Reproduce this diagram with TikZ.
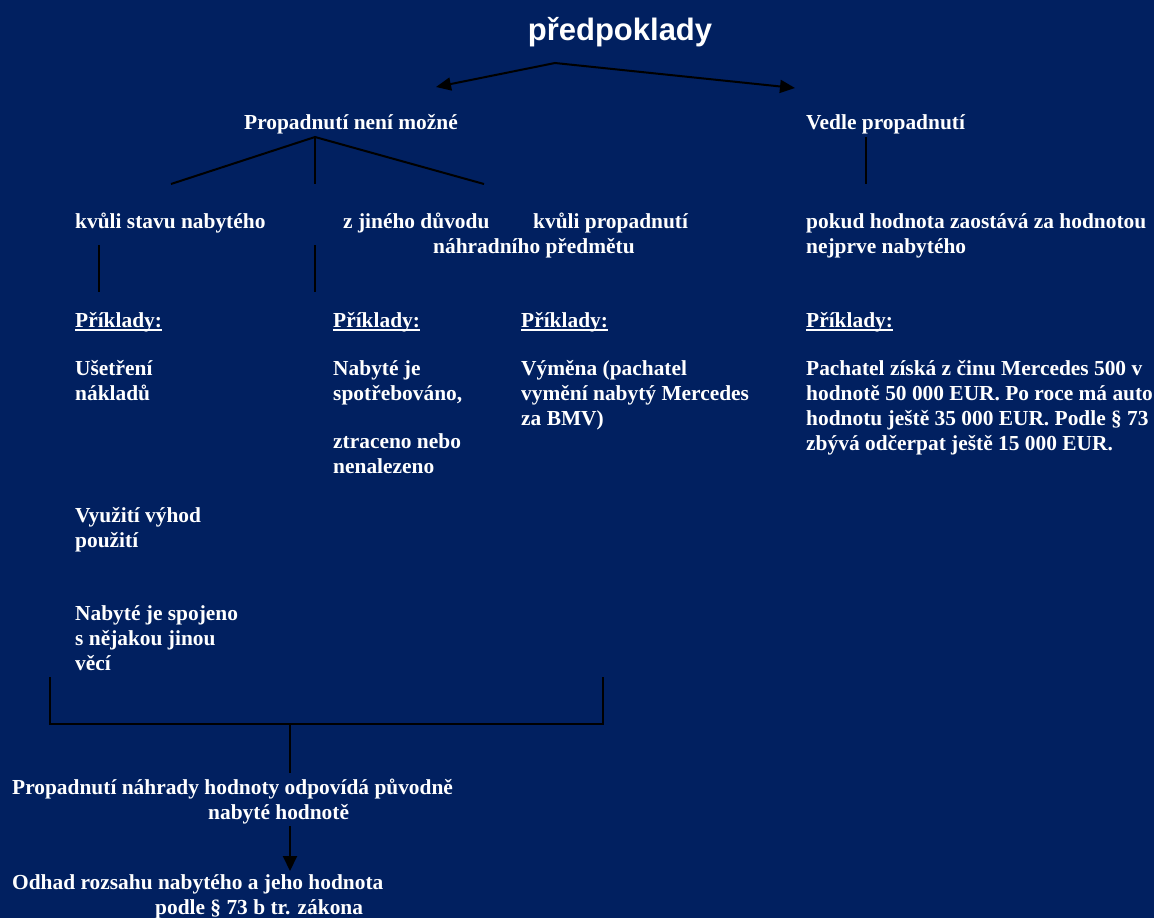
\documentclass[tikz,border=0pt]{standalone}
\usepackage{fontspec}
\setmainfont{Liberation Serif}
\newfontfamily\titlefont{Liberation Sans}
\usetikzlibrary{arrows.meta}
\definecolor{bgnavy}{RGB}{1,32,96}
\newcommand{\mlines}[1]{\begin{tabular}[t]{@{}l@{}}#1\end{tabular}}
\begin{document}
\begin{tikzpicture}[x=1pt,y=-1pt,
  txt/.style={anchor=base west, inner sep=0pt, text=white, font=\fontsize{21.4}{25}\selectfont\bfseries},
  conn/.style={draw=black, line width=2pt},
  tiphead/.style={-{Triangle[length=15pt,width=14pt]}},
  uline/.style={draw=white, line width=1.5pt}]
\fill[bgnavy] (0,0) rectangle (1154,918);
\useasboundingbox (0,0) rectangle (1154,918);

% title
\node[anchor=base, inner sep=0pt, text=white, font=\titlefont\fontsize{31}{36}\selectfont\bfseries] (title) at (620,40) {předpoklady};
\coordinate (apex) at (555,63);
\coordinate (ltip) at (436,87);
\coordinate (rtip) at (795,88);
\draw[conn, {Triangle[length=15pt,width=13pt]}-{Triangle[length=15pt,width=13pt]}] (ltip) -- (apex) -- (rtip);

% level 1
\node[txt] (n1) at (244,129) {Propadnutí není možné};
\node[txt] (n2) at (806,129) {Vedle propadnutí};

\coordinate (t1) at (315,137);
\coordinate (b1) at (171,184);
\coordinate (b2) at (315,184);
\coordinate (b3) at (484,184);
\draw[conn] (b1) -- (t1) -- (b3);
\draw[conn] (t1) -- (b2);
\coordinate (v1) at (866,137);
\coordinate (v2) at (866,184);
\draw[conn] (v1) -- (v2);

% level 2
\node[txt] (n3) at (75,228) {kvůli stavu nabytého};
\node[txt] (n4) at (343,228) {z jiného důvodu};
\node[txt] (n5) at (433,228) {\mlines{\hspace*{100pt}kvůli propadnutí\\náhradního předmětu}};
\node[txt] (n6) at (806,228) {\mlines{pokud hodnota zaostává za hodnotou\\nejprve nabytého}};

\coordinate (s1a) at (99,245);
\coordinate (s1b) at (99,292);
\coordinate (s2a) at (315,245);
\coordinate (s2b) at (315,292);
\draw[conn] (s1a) -- (s1b);
\draw[conn] (s2a) -- (s2b);

% examples headers
\foreach \nm/\xx in {p1/75, p2/333, p3/521, p4/806}{
  \node[txt] (\nm) at (\xx,327) {Příklady:};
  \draw[uline] ([yshift=-3pt]\nm.base west) -- ([yshift=-3pt]\nm.base east);
}

% examples
\node[txt] (e1) at (75,375) {\mlines{Ušetření\\nákladů}};
\node[txt] (e2) at (333,375) {\mlines{Nabyté je\\spotřebováno,}};
\node[txt] (e3) at (333,448) {\mlines{ztraceno nebo\\nenalezeno}};
\node[txt] (e4) at (521,375) {\mlines{Výměna (pachatel\\vymění nabytý Mercedes\\za BMV)}};
\node[txt] (e5) at (806,375) {\mlines{Pachatel získá z činu Mercedes 500 v\\hodnotě 50 000 EUR. Po roce má auto\\hodnotu ještě 35 000 EUR. Podle § 73\\zbývá odčerpat ještě 15 000 EUR.}};
\node[txt] (e6) at (75,522) {\mlines{Využití výhod\\použití}};
\node[txt] (e7) at (75,620) {\mlines{Nabyté je spojeno\\s nějakou jinou\\věcí}};

% bracket
\coordinate (k1) at (50,677);
\coordinate (k2) at (50,724);
\coordinate (k3) at (603,724);
\coordinate (k4) at (603,677);
\coordinate (km) at (290,724);
\coordinate (kd) at (290,773);
\draw[conn] (k1) -- (k2) -- (k3) -- (k4);
\draw[conn] (km) -- (kd);

% result
\node[txt] (r1) at (12,794) {\mlines{Propadnutí náhrady hodnoty odpovídá původně\\\hspace*{196pt}nabyté hodnotě}};
\coordinate (a1) at (290,826);
\coordinate (a2) at (290,871);
\draw[conn, tiphead] (a1) -- (a2);
\node[txt] (r2) at (12,889) {\mlines{Odhad rozsahu nabytého a jeho hodnota\\\hspace*{143pt}podle § 73 b tr. zákona}};
\end{tikzpicture}
\end{document}
